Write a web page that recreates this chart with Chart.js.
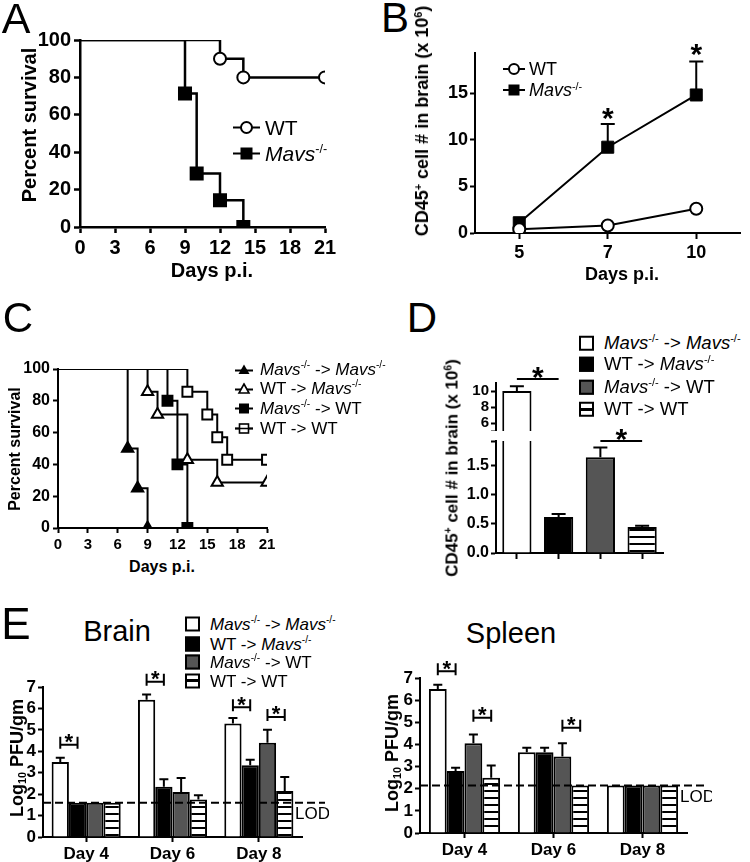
<!DOCTYPE html>
<html>
<head>
<meta charset="utf-8">
<script src="https://cdn.jsdelivr.net/npm/chart.js@4.4.0/dist/chart.umd.min.js"></script>
<style>
  body { margin: 0; background: #fff; width: 750px; height: 862px; position: relative; overflow: hidden;
         font-family: Arial, "Liberation Sans", sans-serif; color: #000; }
  canvas { position: absolute; }
  .t { position: absolute; white-space: nowrap; line-height: 1; transform: translate(-50%, -50%); }
  .rot { transform: translate(-50%, -50%) rotate(-90deg); }
  .b { font-weight: bold; }
  sup { font-size: .6em; vertical-align: .6em; line-height: 0; }
  sub { font-size: .6em; vertical-align: -.3em; line-height: 0; }
  .row { position: absolute; white-space: nowrap; display: flex; align-items: center; line-height: 1; transform: translateY(-50%); }
  .row svg { flex: none; }
  .box { flex: none; width: 11px; height: 11px; border: 2px solid #000; }
</style>
</head>
<body>
<canvas id="chA"></canvas>
<canvas id="chB"></canvas>
<canvas id="chC"></canvas>
<canvas id="chDhi"></canvas>
<canvas id="chDlo"></canvas>
<canvas id="chBrain"></canvas>
<canvas id="chSpleen"></canvas>

<!-- panel letters and titles -->
<div class="t" style="left:16px;top:18px;font-size:43px">A</div>
<div class="t" style="left:395px;top:18px;font-size:42px">B</div>
<div class="t" style="left:18px;top:318px;font-size:42px">C</div>
<div class="t" style="left:422px;top:318px;font-size:42px">D</div>
<div class="t" style="left:16px;top:624px;font-size:44px">E</div>
<div class="t" style="left:117px;top:631px;font-size:29px">Brain</div>
<div class="t" style="left:511px;top:633px;font-size:29px">Spleen</div>

<!-- axis titles -->
<div class="t rot b" style="left:29px;top:125px;font-size:20px">Percent survival</div>
<div class="t b" style="left:212px;top:270px;font-size:20px">Days p.i.</div>
<div class="t rot b" style="left:422px;top:121px;font-size:18px">CD45<sup>+</sup> cell # in brain (x 10<sup>6</sup>)</div>
<div class="t b" style="left:622px;top:274px;font-size:18px">Days p.i.</div>
<div class="t rot b" style="left:15px;top:449px;font-size:16px">Percent survival</div>
<div class="t b" style="left:162px;top:567px;font-size:16px">Days p.i.</div>
<div class="t rot b" style="left:452px;top:468px;font-size:17px">CD45<sup>+</sup> cell # in brain (x 10<sup>6</sup>)</div>
<div class="t rot b" style="left:17px;top:758px;font-size:18px">Log<sub>10</sub> PFU/gm</div>
<div class="t rot b" style="left:392px;top:753px;font-size:18px">Log<sub>10</sub> PFU/gm</div>

<!-- legend A -->
<div class="row" style="left:233px;top:127px;font-size:21px">
  <svg width="27" height="14"><line x1="0" y1="7" x2="27" y2="7" stroke="#000" stroke-width="2"/><circle cx="13.5" cy="7" r="5.5" fill="#fff" stroke="#000" stroke-width="2"/></svg>
  <span style="margin-left:5px">WT</span></div>
<div class="row" style="left:233px;top:153px;font-size:21px">
  <svg width="27" height="14"><line x1="0" y1="7" x2="27" y2="7" stroke="#000" stroke-width="2"/><rect x="7.5" y="1" width="12" height="12" fill="#000"/></svg>
  <span style="margin-left:5px"><i>Mavs</i><sup>-/-</sup></span></div>

<!-- legend B -->
<div class="row" style="left:503px;top:69px;font-size:18px">
  <svg width="22" height="14"><line x1="0" y1="7" x2="22" y2="7" stroke="#000" stroke-width="2"/><circle cx="11" cy="7" r="5" fill="#fff" stroke="#000" stroke-width="2"/></svg>
  <span style="margin-left:4px">WT</span></div>
<div class="row" style="left:503px;top:90px;font-size:18px">
  <svg width="22" height="14"><line x1="0" y1="7" x2="22" y2="7" stroke="#000" stroke-width="2"/><rect x="5.5" y="1.5" width="11" height="11" fill="#000"/></svg>
  <span style="margin-left:4px"><i>Mavs</i><sup>-/-</sup></span></div>

<!-- legend C -->
<div class="row" style="left:235px;top:369px;font-size:17px">
  <svg width="18" height="12"><line x1="0" y1="7" x2="18" y2="7" stroke="#000" stroke-width="2"/><polygon points="9,1 14.5,10.5 3.5,10.5" fill="#000"/></svg>
  <span style="margin-left:7px"><i>Mavs</i><sup>-/-</sup> -&gt; <i>Mavs</i><sup>-/-</sup></span></div>
<div class="row" style="left:235px;top:388px;font-size:17px">
  <svg width="18" height="12"><line x1="0" y1="7" x2="18" y2="7" stroke="#000" stroke-width="2"/><polygon points="9,1.5 14,10.5 4,10.5" fill="#fff" stroke="#000" stroke-width="1.6"/></svg>
  <span style="margin-left:7px">WT -&gt; <i>Mavs</i><sup>-/-</sup></span></div>
<div class="row" style="left:235px;top:408px;font-size:17px">
  <svg width="18" height="12"><line x1="0" y1="6" x2="18" y2="6" stroke="#000" stroke-width="2"/><rect x="4" y="1" width="10" height="10" fill="#000"/></svg>
  <span style="margin-left:7px"><i>Mavs</i><sup>-/-</sup> -&gt; WT</span></div>
<div class="row" style="left:235px;top:428px;font-size:17px">
  <svg width="18" height="12"><line x1="0" y1="6" x2="18" y2="6" stroke="#000" stroke-width="2"/><rect x="4.5" y="1.5" width="9" height="9" fill="#fff" stroke="#000" stroke-width="1.6"/><line x1="0" y1="6" x2="18" y2="6" stroke="#000" stroke-width="1.6"/></svg>
  <span style="margin-left:7px">WT -&gt; WT</span></div>

<!-- legend D -->
<div class="row" style="left:579px;top:343px;font-size:18.5px"><span class="box" style="background:#fff"></span><span style="margin-left:10px"><i>Mavs</i><sup>-/-</sup> -&gt; <i>Mavs</i><sup>-/-</sup></span></div>
<div class="row" style="left:579px;top:364px;font-size:18.5px"><span class="box" style="background:#000"></span><span style="margin-left:10px">WT -&gt; <i>Mavs</i><sup>-/-</sup></span></div>
<div class="row" style="left:579px;top:387px;font-size:18.5px"><span class="box" style="background:#555"></span><span style="margin-left:10px"><i>Mavs</i><sup>-/-</sup> -&gt; WT</span></div>
<div class="row" style="left:579px;top:409px;font-size:18.5px"><span class="box" style="background:linear-gradient(#fff 0 4px,#000 4px 7px,#fff 7px)"></span><span style="margin-left:10px">WT -&gt; WT</span></div>

<!-- legend E -->
<div class="row" style="left:185px;top:624px;font-size:17px"><span class="box" style="background:#fff"></span><span style="margin-left:10px"><i>Mavs</i><sup>-/-</sup> -&gt; <i>Mavs</i><sup>-/-</sup></span></div>
<div class="row" style="left:185px;top:644px;font-size:17px"><span class="box" style="background:#000"></span><span style="margin-left:10px">WT -&gt; <i>Mavs</i><sup>-/-</sup></span></div>
<div class="row" style="left:185px;top:662px;font-size:17px"><span class="box" style="background:#555"></span><span style="margin-left:10px"><i>Mavs</i><sup>-/-</sup> -&gt; WT</span></div>
<div class="row" style="left:185px;top:681px;font-size:17px"><span class="box" style="background:linear-gradient(#fff 0 4px,#000 4px 7px,#fff 7px)"></span><span style="margin-left:10px">WT -&gt; WT</span></div>

<script>
// ---- A: survival, WT vs Mavs-/- ----
var aWtDays = [0, 12, 14, 21];
var aWtSurv = [100, 90, 80, 80];
var aMavsDays = [0, 9, 10, 12, 14];
var aMavsSurv = [100, 71.4, 28.6, 14.3, 0];
var survTicks = [0, 20, 40, 60, 80, 100];
var dayTicks = [0, 3, 6, 9, 12, 15, 18, 21];

// ---- B: CD45+ cells in brain ----
var bDays = ['5', '7', '10'];
var bWt = [0.4, 0.8, 2.6];
var bMavs = [1.1, 9.2, 14.8];
var bMavsErr = [null, 11.7, 18.4];
var bTicks = [0, 5, 10, 15];
var bStars = [[1, 13.1], [2, 19.9]];

// ---- C: survival of bone marrow chimeras ----
var cMMDays = [0, 7, 8, 9];
var cMMSurv = [100, 50, 25, 0];
var cWMDays = [0, 9, 10, 13, 16, 21];
var cWMSurv = [100, 85.7, 71.4, 42.9, 28.6, 28.6];
var cMWDays = [0, 11, 12, 13];
var cMWSurv = [100, 80, 40, 0];
var cWWDays = [0, 13, 15, 16, 17, 21];
var cWWSurv = [100, 85.7, 71.4, 57.1, 42.9, 42.9];

// ---- D: CD45+ cells in chimeras (broken axis) ----
var groups = ['Mavs-/- -> Mavs-/-', 'WT -> Mavs-/-', 'Mavs-/- -> WT', 'WT -> WT'];
var dCells = [10.0, 0.62, 1.65, 0.45];
var dErr = [10.6, 0.67, 1.82, 0.47];
var dTicksHi = [5, 6, 8, 10];
var dTicksLo = [0, 0.5, 1, 1.5, 1.93];

// ---- E: virus titres ----
var eDays = ['Day 4', 'Day 6', 'Day 8'];
var brain = [[3.5, 6.4, 5.3], [1.6, 2.35, 3.35], [1.6, 2.1, 4.4], [1.6, 1.75, 2.15]];
var brainErr = [[3.7, 6.65, 5.55], [null, 2.7, 3.6], [null, 2.75, 5.0], [null, 1.95, 2.8]];
var brainSig = [[0, 0, 1, 4.3], [1, 0, 1, 7.25], [2, 0, 1, 6.05], [2, 2, 3, 5.6]];
var spleen = [[6.5, 3.65, 2.15], [2.8, 3.65, 2.15], [4.05, 3.45, 2.15], [2.5, 2.15, 2.15]];
var spleenErr = [[6.7, 3.85, null], [2.95, 3.85, null], [4.45, 4.05, null], [3.05, null, null]];
var spleenSig = [[0, 0, 1, 7.3], [0, 2, 3, 5.2], [1, 2, 3, 4.75]];
var brainLod = 1.6;
var spleenLod = 2.15;
var logTicks = [0, 1, 2, 3, 4, 5, 6, 7];

var FONT = 'Arial, "Liberation Sans", sans-serif';
Chart.defaults.font.family = FONT;
Chart.defaults.color = '#000';
Chart.defaults.animation = false;
Chart.defaults.responsive = false;
Chart.defaults.devicePixelRatio = 1;
Chart.defaults.plugins.legend.display = false;
Chart.defaults.plugins.tooltip.enabled = false;

//size and place a canvas so the plot area lands on [l,t,r,b]
function place(id, area, yW, xH, padT, padR) {
	var c = document.getElementById(id);
	c.width = yW + area[2] - area[0] + padR;
	c.height = padT + area[3] - area[1] + xH;
	c.style.left = (area[0] - yW) + 'px';
	c.style.top = (area[1] - padT) + 'px';
	return c;
}

function stripes(c) {
	var p = document.createElement('canvas');
	p.width = 4; p.height = 7;
	var g = p.getContext('2d');
	g.fillStyle = '#fff'; g.fillRect(0, 0, 4, 7);
	g.fillStyle = '#000'; g.fillRect(0, 5, 4, 2);
	return c.getContext('2d').createPattern(p, 'repeat');
}

//linear axis with fixed tick list
function linAxis(min, max, ticks, size, o) {
	o = o || {};
	var horiz = !!o.h;
	return {
		type: 'linear', min: min, max: max,
		afterBuildTicks: function(s) { s.ticks = ticks.map(function(v) { return {value: v}; }); },
		afterFit: function(s) {
			if (horiz) s.height = o.h; else s.width = o.w;
			s.paddingTop = 0; s.paddingBottom = 0; s.paddingLeft = 0; s.paddingRight = 0;
		},
		ticks: {autoSkip: false, maxRotation: 0, font: {size: size, weight: 'bold'}, color: '#000',
			padding: o.pad != null ? o.pad : 3, callback: o.fmt || function(v) { return v; }},
		grid: {drawOnChartArea: false, tickLength: o.tl || 6, tickWidth: o.lw || 2, tickColor: '#000'},
		border: {color: '#000', width: o.lw || 2}
	};
}

function catAxis(size, o) {
	o = o || {};
	return {
		type: 'category', offset: true, display: o.display != null ? o.display : true,
		afterFit: function(s) { s.height = o.h || 0; s.paddingLeft = 0; s.paddingRight = 0; },
		ticks: {display: o.labels !== false, autoSkip: false, maxRotation: 0, font: {size: size, weight: 'bold'}, color: '#000', padding: o.pad != null ? o.pad : 3},
		grid: {offset: false, drawOnChartArea: false, tickLength: o.tl || 6, tickWidth: 2, tickColor: '#000'},
		border: {color: '#000', width: 2}
	};
}

function drawStar(ctx, x, yc, size) {
	ctx.font = 'bold ' + size + 'px ' + FONT;
	ctx.textAlign = 'center';
	ctx.textBaseline = 'alphabetic';
	ctx.fillText('*', x, yc + size * 0.56);
}

//error bars, significance marks and LOD line, all placed through the chart scales
function extras(cfg) {
	return {
		id: 'extras',
		afterDatasetsDraw: function(chart) {
			var ctx = chart.ctx, ys = chart.scales.y, area = chart.chartArea;
			ctx.save();
			ctx.strokeStyle = '#000'; ctx.fillStyle = '#000'; ctx.lineWidth = 2;
			(cfg.errors || []).forEach(function(e) {
				var meta = chart.getDatasetMeta(e[0]);
				e[1].forEach(function(v, j) {
					if (v == null || v < ys.min || v > ys.max) return;
					var el = meta.data[j], y = ys.getPixelForValue(v);
					ctx.beginPath();
					ctx.moveTo(el.x, el.y); ctx.lineTo(el.x, y);
					ctx.moveTo(el.x - cfg.cap, y); ctx.lineTo(el.x + cfg.cap, y);
					ctx.stroke();
				});
			});
			if (cfg.lod != null) {
				var yl = ys.getPixelForValue(cfg.lod);
				ctx.setLineDash([8, 4]);
				ctx.beginPath(); ctx.moveTo(area.left, yl); ctx.lineTo(area.right + cfg.lodExt, yl); ctx.stroke();
				ctx.setLineDash([]);
				ctx.font = '17px ' + FONT; ctx.textAlign = 'left'; ctx.textBaseline = 'top';
				ctx.fillText('LOD', area.right - 7, yl + 3);
			}
			(cfg.brackets || []).forEach(function(b) {
				var x1 = chart.getDatasetMeta(b[1]).data[b[0]].x;
				var x2 = chart.getDatasetMeta(b[2]).data[b[0]].x;
				var y = ys.getPixelForValue(b[3]);
				ctx.beginPath();
				ctx.moveTo(x1, y - 8); ctx.lineTo(x1, y + 4);
				ctx.moveTo(x2, y - 8); ctx.lineTo(x2, y + 4);
				ctx.moveTo(x1, y); ctx.lineTo(x2, y);
				ctx.stroke();
				drawStar(ctx, (x1 + x2) / 2, y - 8, cfg.starSize);
			});
			(cfg.sigLines || []).forEach(function(b) {
				var meta = chart.getDatasetMeta(0);
				var x1 = meta.data[b[0]].x, x2 = meta.data[b[1]].x, y = ys.getPixelForValue(b[2]);
				ctx.beginPath(); ctx.moveTo(x1, y); ctx.lineTo(x2, y); ctx.stroke();
				drawStar(ctx, (x1 + x2) / 2, y - 9, cfg.starSize);
			});
			(cfg.stars || []).forEach(function(s) {
				var el = chart.getDatasetMeta(cfg.starDs).data[s[0]];
				drawStar(ctx, el.x, ys.getPixelForValue(s[1]), cfg.starSize);
			});
			ctx.restore();
		}
	};
}

function xy(xs, ys) { return xs.map(function(x, i) { return {x: x, y: ys[i]}; }); }
function marks(xs, r) { return xs.map(function(x, i) { return i ? r : 0; }); }

function survSet(xs, ys, style, r, fill, lw) {
	return {data: xy(xs, ys), showLine: true, stepped: true, borderColor: '#000', borderWidth: lw,
		pointStyle: style, pointRadius: marks(xs, r), pointBackgroundColor: fill,
		pointBorderColor: '#000', pointBorderWidth: 2};
}

// ---- panel A ----
new Chart(place('chA', [80, 40, 325, 227], 60, 38, 15, 22), {
	type: 'scatter',
	data: {datasets: [
		survSet(aWtDays, aWtSurv, 'circle', 6, '#fff', 2.5),
		survSet(aMavsDays, aMavsSurv, 'rect', 8.5, '#000', 2.5)
	]},
	options: {
		layout: {padding: {top: 15, right: 22, left: 0, bottom: 0}},
		scales: {
			x: linAxis(0, 21, dayTicks, 20, {h: 38, lw: 2.5}),
			y: linAxis(0, 100, survTicks, 20, {w: 60, lw: 2.5})
		}
	}
});

// ---- panel B ----
new Chart(place('chB', [475, 53, 748, 233], 45, 34, 20, 2), {
	type: 'line',
	data: {labels: bDays, datasets: [
		{data: bWt, borderColor: '#000', borderWidth: 2, pointStyle: 'circle', pointRadius: 6,
			pointBackgroundColor: '#fff', pointBorderColor: '#000', pointBorderWidth: 2},
		{data: bMavs, borderColor: '#000', borderWidth: 2, pointStyle: 'rect', pointRadius: 8.5,
			pointBackgroundColor: '#000', pointBorderColor: '#000', pointBorderWidth: 1}
	]},
	options: {
		layout: {padding: {top: 20, right: 2, left: 0, bottom: 0}},
		scales: {
			x: catAxis(18, {h: 34, tl: 6}),
			y: linAxis(0, 19.3, bTicks, 18, {w: 45, tl: 5, pad: 2})
		}
	},
	plugins: [extras({errors: [[1, bMavsErr]], cap: 7, stars: bStars, starDs: 1, starSize: 30})]
});

// ---- panel C ----
new Chart(place('chC', [58, 369, 267, 528], 50, 30, 12, 20), {
	type: 'scatter',
	data: {datasets: [
		survSet(cMMDays, cMMSurv, 'triangle', 6.5, '#000', 2),
		survSet(cWMDays, cWMSurv, 'triangle', 6.5, '#fff', 2),
		survSet(cMWDays, cMWSurv, 'rect', 7, '#000', 2),
		survSet(cWWDays, cWWSurv, 'rect', 7, '#fff', 2)
	]},
	options: {
		layout: {padding: {top: 12, right: 20, left: 0, bottom: 0}},
		scales: {
			x: linAxis(0, 21, dayTicks, 15, {h: 30, tl: 5}),
			y: linAxis(0, 100, survTicks, 16, {w: 50, tl: 5})
		}
	}
});

// ---- panel D, upper segment ----
var cDhi = place('chDhi', [496, 383, 663, 431], 40, 0, 26, 5);
new Chart(cDhi, {
	type: 'bar',
	data: {labels: groups, datasets: [{data: dCells, clip: 0, borderColor: '#000', borderWidth: 2,
		backgroundColor: ['#fff', '#000', '#555', stripes(cDhi)]}]},
	options: {
		layout: {padding: {top: 26, right: 5, left: 0, bottom: 0}},
		datasets: {bar: {categoryPercentage: 1, barPercentage: 0.7}},
		scales: {
			x: catAxis(15, {display: false}),
			y: linAxis(5, 11, dTicksHi, 15, {w: 40, tl: 5, pad: 2, fmt: function(v) { return v === 5 ? '' : v; }})
		}
	},
	plugins: [extras({errors: [[0, dErr]], cap: 7, sigLines: [[0, 1, 11.5]], starSize: 30})]
});

// ---- panel D, lower segment ----
var cDlo = place('chDlo', [496, 441, 663, 553], 40, 8, 22, 5);
new Chart(cDlo, {
	type: 'bar',
	data: {labels: groups, datasets: [{data: dCells, clip: 0, borderColor: '#000', borderWidth: 2,
		backgroundColor: ['#fff', '#000', '#555', stripes(cDlo)]}]},
	options: {
		layout: {padding: {top: 22, right: 5, left: 0, bottom: 0}},
		datasets: {bar: {categoryPercentage: 1, barPercentage: 0.7}},
		scales: {
			x: catAxis(15, {h: 8, labels: false, tl: 6}),
			y: linAxis(0, 1.93, dTicksLo, 16, {w: 40, tl: 5, pad: 2, fmt: function(v) { return v > 1.9 ? '' : v.toFixed(1); }})
		}
	},
	plugins: [extras({errors: [[0, dErr]], cap: 7, sigLines: [[2, 3, 1.93]], starSize: 30})]
});

// ---- panel E ----
function titreChart(id, area, vals, errs, sig, lod, lodExt) {
	var c = place(id, area, 32, 26, 26, lodExt + 4);
	var fills = ['#fff', '#000', '#555', stripes(c)];
	return new Chart(c, {
		type: 'bar',
		data: {labels: eDays, datasets: vals.map(function(v, i) {
			return {data: v, backgroundColor: fills[i], borderColor: '#000', borderWidth: 2};
		})},
		options: {
			layout: {padding: {top: 26, right: lodExt + 4, left: 0, bottom: 0}},
			datasets: {bar: {categoryPercentage: 0.8, barPercentage: 1}},
			scales: {
				x: catAxis(17, {h: 26, tl: 5, pad: 2}),
				y: linAxis(0, 7, logTicks, 17, {w: 32, tl: 5, pad: 2})
			}
		},
		plugins: [extras({errors: errs.map(function(e, i) { return [i, e]; }), cap: 4.5,
			brackets: sig, starSize: 22, lod: lod, lodExt: lodExt})]
	});
}

titreChart('chBrain', [43, 687, 302, 837], brain, brainErr, brainSig, brainLod, 23);
titreChart('chSpleen', [420, 678, 687, 833], spleen, spleenErr, spleenSig, spleenLod, 21);
</script>
</body>
</html>
